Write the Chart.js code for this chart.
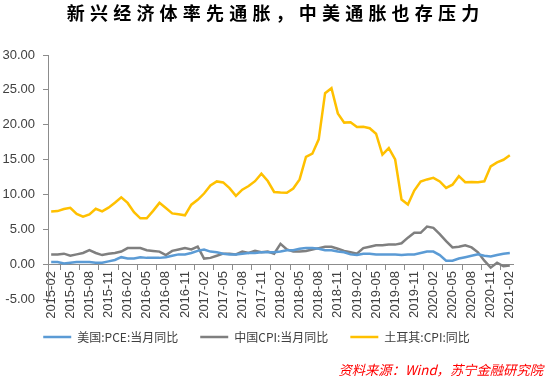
<!DOCTYPE html>
<html><head><meta charset="utf-8">
<script src="https://cdn.jsdelivr.net/npm/chart.js@4"></script>
<style>
body{margin:0;background:#fff;}
#wrap{position:relative;width:546px;height:378px;}
#title{position:absolute;left:0;top:-1px;width:546px;text-align:center;font:bold 18px "Noto Sans CJK SC";letter-spacing:5.2px;padding-left:5.2px;box-sizing:border-box;color:#000;}
#src{position:absolute;right:3px;top:360px;font:italic 13.3px "Noto Sans CJK SC";color:#f00;}
canvas{position:absolute;left:0;top:0;}
</style></head><body>
<div id="wrap"><canvas id="c" width="546" height="378"></canvas>
<div id="title">新兴经济体率先通胀，中美通胀也存压力</div>
<div id="src">资料来源：Wind，苏宁金融研究院</div></div>
<script>
const months = [
'2015-02','2015-03','2015-04','2015-05','2015-06','2015-07','2015-08','2015-09','2015-10','2015-11','2015-12',
'2016-01','2016-02','2016-03','2016-04','2016-05','2016-06','2016-07','2016-08','2016-09','2016-10','2016-11','2016-12',
'2017-01','2017-02','2017-03','2017-04','2017-05','2017-06','2017-07','2017-08','2017-09','2017-10','2017-11','2017-12',
'2018-01','2018-02','2018-03','2018-04','2018-05','2018-06','2018-07','2018-08','2018-09','2018-10','2018-11','2018-12',
'2019-01','2019-02','2019-03','2019-04','2019-05','2019-06','2019-07','2019-08','2019-09','2019-10','2019-11','2019-12',
'2020-01','2020-02','2020-03','2020-04','2020-05','2020-06','2020-07','2020-08','2020-09','2020-10','2020-11','2020-12',
'2021-01','2021-02'];

const usPCE = [
0.3,0.3,0.1,0.2,0.3,0.3,0.3,0.2,0.2,0.4,0.6,
1.0,0.8,0.8,1.0,0.9,0.9,0.9,1.0,1.2,1.4,1.4,1.6,
1.9,2.1,1.8,1.7,1.5,1.4,1.4,1.5,1.6,1.6,1.7,1.7,
1.7,1.8,2.0,2.0,2.2,2.3,2.3,2.2,2.0,2.0,1.8,1.7,
1.4,1.3,1.5,1.5,1.4,1.4,1.4,1.4,1.3,1.4,1.4,1.6,
1.8,1.8,1.3,0.5,0.5,0.8,1.0,1.2,1.4,1.2,1.1,1.3,
1.5,1.6];

const chinaCPI = [
1.4,1.4,1.5,1.2,1.4,1.6,2.0,1.6,1.3,1.5,1.6,
1.8,2.3,2.3,2.3,2.0,1.9,1.8,1.3,1.9,2.1,2.3,2.1,
2.5,0.8,0.9,1.2,1.5,1.5,1.4,1.8,1.6,1.9,1.7,1.8,
1.5,2.9,2.1,1.8,1.8,1.9,2.1,2.3,2.5,2.5,2.2,1.9,
1.7,1.5,2.3,2.5,2.7,2.7,2.8,2.8,3.0,3.8,4.5,4.5,
5.4,5.2,4.3,3.3,2.4,2.5,2.7,2.4,1.7,0.5,-0.5,0.2,
-0.3,-0.2];

const turkeyCPI = [
7.55,7.61,7.91,8.09,7.20,6.81,7.14,7.95,7.58,8.10,8.81,
9.58,8.78,7.46,6.57,6.58,7.64,8.79,8.05,7.28,7.16,7.00,8.53,
9.22,10.13,11.29,11.87,11.72,10.90,9.79,10.68,11.20,11.90,12.98,11.92,
10.35,10.26,10.23,10.85,12.15,15.39,15.85,17.90,24.52,25.24,21.62,20.30,
20.35,19.67,19.71,19.50,18.71,15.72,16.65,15.01,9.26,8.55,10.56,11.84,
12.15,12.37,11.86,10.94,11.39,12.62,11.76,11.77,11.75,11.89,14.03,14.60,
14.97,15.61];

const seriesNames = ['美国:PCE:当月同比','中国CPI:当月同比','土耳其:CPI:同比'];
const seriesColors = ['#5B9BD5','#7F7F7F','#FFC000'];

const FONT = '"Liberation Sans", Arial, "Noto Sans CJK SC", sans-serif';
const mk = (i, data) => ({
  label: seriesNames[i], data: data,
  borderColor: seriesColors[i], backgroundColor: seriesColors[i],
  borderWidth: 2.5, pointRadius: 0, pointHoverRadius: 0, tension: 0, pointStyle: 'line'
});

new Chart(document.getElementById('c'), {
  type: 'line',
  data: { labels: months, datasets: [mk(0, usPCE), mk(1, chinaCPI), mk(2, turkeyCPI)] },
  options: {
    responsive: false, animation: false,
    layout: { padding: { top: 55, right: 33, bottom: 25, left: 0 } },
    plugins: {
      title: { display: false },
      tooltip: { enabled: false },
      legend: {
        position: 'bottom',
        labels: {
          usePointStyle: true, pointStyleWidth: 28, boxHeight: 12,
          color: '#404040', padding: 22,
          font: { size: 12, family: '"Noto Sans CJK SC", ' + FONT }
        }
      }
    },
    scales: {
      x: {
        type: 'category', offset: true, position: { y: 0 },
        grid: { display: true, drawOnChartArea: false, drawTicks: true, tickLength: 5, offset: true, color: '#8c8c8c' },
        border: { display: true, color: '#8c8c8c' },
        ticks: {
          autoSkip: false, maxRotation: 90, minRotation: 90, padding: 2,
          color: '#404040', font: { size: 13, family: FONT },
          callback: (v, i) => (i % 3 === 0 ? months[i] : null)
        }
      },
      xSpace: {
        type: 'category', position: 'bottom', offset: true,
        grid: { display: false }, border: { display: false },
        ticks: { display: false },
        afterFit: s => { s.height = 10; }
      },
      y: {
        min: -5, max: 30,
        ticks: { stepSize: 5, callback: v => v.toFixed(2), color: '#404040', font: { size: 13, family: FONT }, padding: 8 },
        grid: { drawOnChartArea: false, tickLength: 5, color: '#8c8c8c' },
        border: { color: '#8c8c8c' },
        afterFit: s => { s.width = 48; }
      }
    }
  }
});
</script>
</body></html>
